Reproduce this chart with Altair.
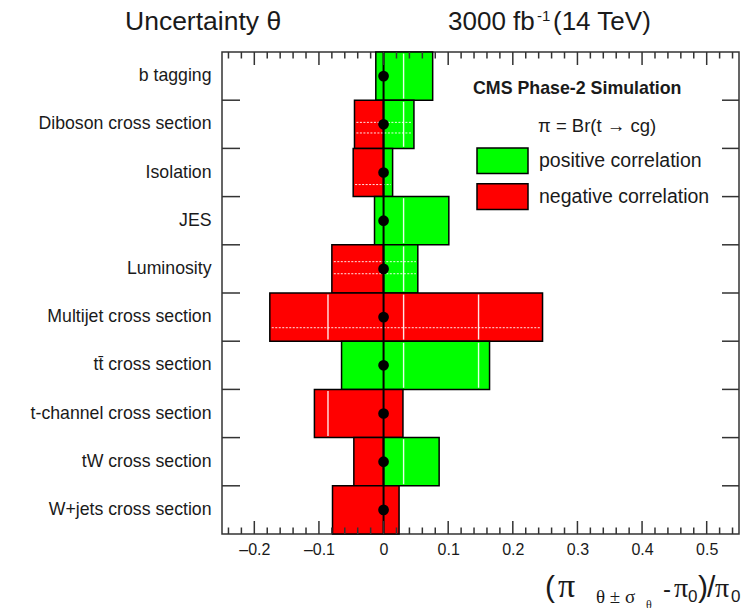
import altair as alt
import pandas as pd

# Nuisance parameters, top to bottom (cross-section labels carry a trailing no-break space)
rows = [
    "b tagging",
    "Diboson cross section\u00a0",
    "Isolation",
    "JES",
    "Luminosity",
    "Multijet cross section\u00a0",
    "t\u0074\u0304 cross section\u00a0",
    "t-channel cross section\u00a0",
    "tW cross section\u00a0",
    "W+jets cross section\u00a0",
]

# Shift boxes: row index, lower edge, upper edge, correlation sign
seg_row = [0, 1, 1, 2, 2, 3, 4, 4, 5, 6, 7, 8, 8, 9]
seg_lo = [-0.012, -0.045, 0.0, -0.047, 0.0, -0.014, -0.080, 0.0, -0.176, -0.065, -0.107, -0.046, 0.0, -0.079]
seg_hi = [0.076, 0.0, 0.047, 0.0, 0.014, 0.101, 0.0, 0.053, 0.246, 0.164, 0.030, 0.0, 0.086, 0.024]
seg_corr = ["pos", "neg", "pos", "neg", "pos", "pos", "neg", "pos", "neg", "pos", "neg", "neg", "pos", "neg"]

corr_names = {"pos": "positive correlation", "neg": "negative correlation"}
corr_order = ["positive correlation", "negative correlation"]
corr_colors = ["#00ff00", "#ff0000"]

# Axis tick positions
major_ticks = [-0.2, -0.1, 0.0, 0.1, 0.2, 0.3, 0.4, 0.5]
minor_ticks = [round(-0.24 + 0.02 * i, 2) for i in range(40)]
minor_ticks = [v for v in minor_ticks if abs(v * 10 - round(v * 10)) > 1e-6]

# Thin white lines seen inside the filled boxes
streak_x = [-0.086, 0.031, 0.147]
dash_rows = [(1, 0.46), (1, 0.68), (2, 0.75), (4, 0.35), (4, 0.60), (5, 0.72)]

W, H = 517, 482
FONT = "Liberation Sans"
SERIF = "Liberation Serif"
INK = "#1a1a1a"
FRAME = "#333333"

segs = pd.DataFrame({
    "row": [rows[i] for i in seg_row],
    "lo": seg_lo,
    "hi": seg_hi,
    "corr": [corr_names[c] for c in seg_corr],
})

xscale = alt.Scale(domain=[-0.25, 0.55], nice=False, zero=False)
yscale = alt.Scale(domain=rows, paddingInner=0, paddingOuter=0)
cscale = alt.Scale(domain=corr_order, range=corr_colors)

XAX = alt.Axis(
    values=major_ticks, title=None, ticks=False, tickSize=0, domain=False, grid=False,
    labelExpr="datum.value == 0 ? '0' : (datum.value < 0 ? '\u2013' + format(-datum.value, '.1f') : format(datum.value, '.1f'))",
    labelFont=FONT, labelFontSize=16, labelColor=INK, labelPadding=7,
)
YAX = alt.Axis(
    title=None, ticks=False, tickSize=0, domain=False, grid=False,
    labelFont=FONT, labelFontSize=17.7, labelColor=INK, labelPadding=11, labelLimit=400,
)


def X(field):
    return alt.X(field, type="quantitative", scale=xscale, axis=XAX)


def Y(band=0.5):
    return alt.Y("row:N", scale=yscale, axis=YAX, sort=rows, bandPosition=band)


bars = alt.Chart(segs).mark_bar(stroke="black", strokeWidth=1.5, opacity=1).encode(
    x=X("lo"),
    x2="hi",
    y=Y(),
    color=alt.Color("corr:N", scale=cscale, legend=None),
)

# white streaks inside boxes
streaks = []
for r, lo, hi in zip(seg_row, seg_lo, seg_hi):
    for sx in streak_x:
        if lo + 0.004 < sx < hi - 0.004:
            streaks.append({"row": rows[r], "v": sx})
streak_layer = alt.Chart(pd.DataFrame(streaks)).mark_tick(
    color="white", thickness=1.4, size=45, opacity=0.9
).encode(x=X("v"), y=Y())

dash_layers = []
for r, frac in dash_rows:
    lo = min(l for i, l in zip(seg_row, seg_lo) if i == r)
    hi = max(h for i, h in zip(seg_row, seg_hi) if i == r)
    d = pd.DataFrame({"row": [rows[r]], "a": [lo + 0.003], "b": [hi - 0.003]})
    dash_layers.append(
        alt.Chart(d).mark_rule(color="white", strokeWidth=1, strokeDash=[2, 1.5], opacity=0.9)
        .encode(x=X("a"), x2="b", y=Y(frac))
    )

zero_line = alt.Chart(pd.DataFrame({"v": [0.0]})).mark_rule(color="black", strokeWidth=2).encode(x=X("v"))

dots = alt.Chart(pd.DataFrame({"row": rows, "v": [0.0] * len(rows)})).mark_circle(
    size=115, color="black", opacity=1
).encode(x=X("v"), y=Y())


def xticks(vals, y0, y1):
    return alt.Chart(pd.DataFrame({"v": vals})).mark_rule(color=FRAME, strokeWidth=1.5).encode(
        x=X("v"), y=alt.value(y0), y2=alt.value(y1)
    )


tick_layers = [
    xticks(major_ticks, H, H - 13),
    xticks(minor_ticks, H, H - 6.5),
    xticks(major_ticks, 0, 13),
    xticks(minor_ticks, 0, 6.5),
]

bounds = pd.DataFrame({"row": rows[1:]})
ytick_left = alt.Chart(bounds).mark_rule(color=FRAME, strokeWidth=1.5).encode(
    y=Y(0), x=alt.value(0), x2=alt.value(18)
)
ytick_right = alt.Chart(bounds).mark_rule(color=FRAME, strokeWidth=1.5).encode(
    y=Y(0), x=alt.value(W - 17), x2=alt.value(W)
)


def text(t, x, y, size, font=FONT, weight="normal", align="left", baseline="alphabetic"):
    return alt.Chart(pd.DataFrame({"t": [t]})).mark_text(
        font=font, fontSize=size, fontWeight=weight, align=align, baseline=baseline, color=INK
    ).encode(text="t:N", x=alt.value(x), y=alt.value(y))


# legend: swatch coloured through the same scale, plus its label
LEG_X, LEG_Y, SW_W, SW_H, LEG_STEP = 255, 96, 51, 25.6, 35.8
legend_layers = []
for k, name in enumerate(corr_order):
    top = LEG_Y + k * LEG_STEP
    legend_layers.append(
        alt.Chart(pd.DataFrame({"corr": [name]})).mark_rect(stroke="black", strokeWidth=1.5, opacity=1)
        .encode(
            x=alt.value(LEG_X), x2=alt.value(LEG_X + SW_W),
            y=alt.value(top), y2=alt.value(top + SW_H),
            color=alt.Color("corr:N", scale=cscale, legend=None),
        )
    )
    legend_layers.append(text(name, 317, top + SW_H / 2, 19.5, baseline="middle"))

texts = [
    text("Uncertainty \u03b8", -97, -22, 26.5),
    text("3000 fb", 226, -22, 26),
    text("-1", 315, -31, 15),
    text("(14 TeV)", 331, -22, 26),
    text("CMS Phase-2 Simulation", 251, 37, 17.8, weight="bold", baseline="middle"),
    text("\u03c0 = Br(t \u2192 cg)", 316, 74, 18.5, baseline="middle"),
    # horizontal axis title, piece by piece
    text("(", 323, 545, 30),
    text("\u03c0", 336, 545, 34, font=SERIF),
    text("\u03b8 \u00b1 \u03c3", 374, 551, 19, font=SERIF),
    text("\u03b8", 424, 557, 12, font=SERIF),
    text("-", 441, 545, 24),
    text("\u03c0", 452, 545, 28, font=SERIF),
    text("0", 466, 550, 17),
    text(")", 476, 545, 30),
    text("/", 485, 545, 30),
    text("\u03c0", 493, 545, 28, font=SERIF),
    text("0", 509, 550, 17),
]

chart = alt.layer(
    bars, streak_layer, *dash_layers, zero_line, dots, *tick_layers, ytick_left, ytick_right,
    *legend_layers, *texts
).properties(
    width=W,
    height=H,
    padding={"left": 222, "top": 52, "right": 8, "bottom": 74},
    autosize=alt.AutoSizeParams(type="none"),
    background="white",
).configure_view(stroke=FRAME, strokeWidth=1.5)

chart.save("out.html", embed_options={"renderer": "svg", "actions": False})
